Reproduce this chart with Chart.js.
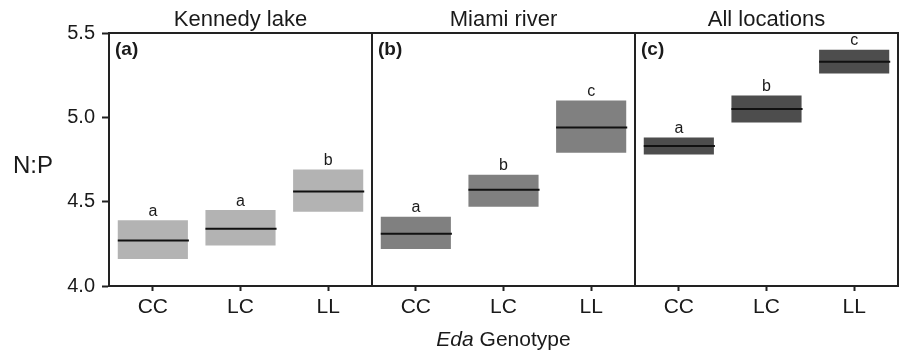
<!DOCTYPE html>
<html>
<head>
<meta charset="utf-8">
<script src="https://cdn.jsdelivr.net/npm/chart.js@4/dist/chart.umd.min.js"></script>
<style>
  body { margin: 0; background: #fff; }
  canvas { display: block; }
</style>
</head>
<body>
<canvas id="npChart" width="899" height="352"></canvas>
<script>
// data
const genotypes = ['CC', 'LC', 'LL'];
const locations = ['Kennedy lake', 'Miami river', 'All locations'];
const panelTags = ['(a)', '(b)', '(c)'];

const kennedyLow = [4.16, 4.24, 4.44];
const kennedyHigh = [4.39, 4.45, 4.69];
const kennedyMean = [4.27, 4.34, 4.56];
const kennedyGroups = ['a', 'a', 'b'];

const miamiLow = [4.22, 4.47, 4.79];
const miamiHigh = [4.41, 4.66, 5.10];
const miamiMean = [4.31, 4.57, 4.94];
const miamiGroups = ['a', 'b', 'c'];

const allLow = [4.78, 4.97, 5.26];
const allHigh = [4.88, 5.13, 5.40];
const allMean = [4.83, 5.05, 5.33];
const allGroups = ['a', 'b', 'c'];

const panelColors = ['#b3b3b3', '#808080', '#4d4d4d'];

const lows = [...kennedyLow, ...miamiLow, ...allLow];
const highs = [...kennedyHigh, ...miamiHigh, ...allHigh];
const means = [...kennedyMean, ...miamiMean, ...allMean];
const groups = [...kennedyGroups, ...miamiGroups, ...allGroups];
const labels = locations.flatMap(() => genotypes);
const fills = locations.flatMap((loc, p) => genotypes.map(() => panelColors[p]));

const FONT = "'Liberation Sans', Arial, Helvetica, sans-serif";
const INK = '#1a1a1a';

const panelPlugin = {
  id: 'panelPlugin',
  afterDatasetsDraw(chart) {
    const ctx = chart.ctx;
    const area = chart.chartArea;
    const x = chart.scales.x;
    const y = chart.scales.y;
    const bars = chart.getDatasetMeta(0).data;

    ctx.save();
    // median lines and significance letters
    bars.forEach((bar, i) => {
      const half = bar.width / 2;
      const ym = y.getPixelForValue(means[i]);
      ctx.strokeStyle = '#111';
      ctx.lineWidth = 2;
      ctx.beginPath();
      ctx.moveTo(bar.x - half, ym);
      ctx.lineTo(bar.x + half + 1, ym);
      ctx.stroke();

      ctx.fillStyle = INK;
      ctx.font = '16px ' + FONT;
      ctx.textAlign = 'center';
      ctx.textBaseline = 'bottom';
      ctx.fillText(groups[i], bar.x, y.getPixelForValue(highs[i]) - 1);
    });

    // frame: top, right and the panel dividers
    ctx.strokeStyle = '#222';
    ctx.lineWidth = 2;
    ctx.beginPath();
    ctx.moveTo(area.left, area.top);
    ctx.lineTo(area.right, area.top);
    ctx.lineTo(area.right, area.bottom);
    for (let p = 1; p < locations.length; p++) {
      const xd = x.getPixelForValue(p * genotypes.length - 0.5);
      ctx.moveTo(xd, area.top);
      ctx.lineTo(xd, area.bottom);
    }
    ctx.stroke();

    // panel titles and tags
    locations.forEach((loc, p) => {
      const x0 = x.getPixelForValue(p * genotypes.length - 0.5);
      const x1 = x.getPixelForValue((p + 1) * genotypes.length - 0.5);
      ctx.fillStyle = INK;
      ctx.font = '22px ' + FONT;
      ctx.textAlign = 'center';
      ctx.textBaseline = 'alphabetic';
      ctx.fillText(loc, (x0 + x1) / 2, area.top - 7);

      ctx.font = 'bold 19px ' + FONT;
      ctx.textAlign = 'left';
      ctx.fillText(panelTags[p], x0 + 6, area.top + 22);
    });

    // axis titles
    ctx.font = '24px ' + FONT;
    ctx.textAlign = 'center';
    ctx.textBaseline = 'middle';
    ctx.fillText('N:P', 33, 166);

    ctx.textBaseline = 'alphabetic';
    ctx.textAlign = 'left';
    ctx.font = 'italic 21px ' + FONT;
    const w1 = ctx.measureText('Eda ').width;
    ctx.font = '21px ' + FONT;
    const w2 = ctx.measureText('Genotype').width;
    const cx = x.getPixelForValue(4);
    const startX = cx - (w1 + w2) / 2;
    ctx.font = 'italic 21px ' + FONT;
    ctx.fillText('Eda ', startX, 346);
    ctx.font = '21px ' + FONT;
    ctx.fillText('Genotype', startX + w1, 346);
    ctx.restore();
  }
};

new Chart(document.getElementById('npChart'), {
  type: 'bar',
  data: {
    labels: labels,
    datasets: [{
      data: lows.map((lo, i) => [lo, highs[i]]),
      backgroundColor: fills,
      borderWidth: 0,
      borderSkipped: false,
      categoryPercentage: 1,
      barPercentage: 0.8
    }]
  },
  options: {
    responsive: false,
    animation: false,
    devicePixelRatio: 1,
    layout: { padding: { top: 33, right: 1, left: 0, bottom: 0 } },
    plugins: {
      legend: { display: false },
      tooltip: { enabled: false }
    },
    scales: {
      x: {
        type: 'category',
        offset: true,
        afterFit(scale) { scale.height = 66; },
        grid: {
          offset: false,
          drawOnChartArea: false,
          drawTicks: true,
          tickLength: 5,
          tickColor: '#222',
          tickWidth: 2
        },
        border: { display: true, color: '#222', width: 2 },
        ticks: {
          color: INK,
          font: { family: FONT, size: 21 },
          padding: 4,
          maxRotation: 0,
          autoSkip: false
        }
      },
      y: {
        min: 4.0,
        max: 5.5,
        afterFit(scale) { scale.width = 109; },
        grid: {
          drawOnChartArea: false,
          drawTicks: true,
          tickLength: 7,
          tickColor: '#222',
          tickWidth: 2
        },
        border: { display: true, color: '#222', width: 2 },
        ticks: {
          stepSize: 0.5,
          color: INK,
          font: { family: FONT, size: 20 },
          padding: 7,
          callback: v => v.toFixed(1)
        }
      }
    }
  },
  plugins: [panelPlugin]
});
</script>
</body>
</html>
